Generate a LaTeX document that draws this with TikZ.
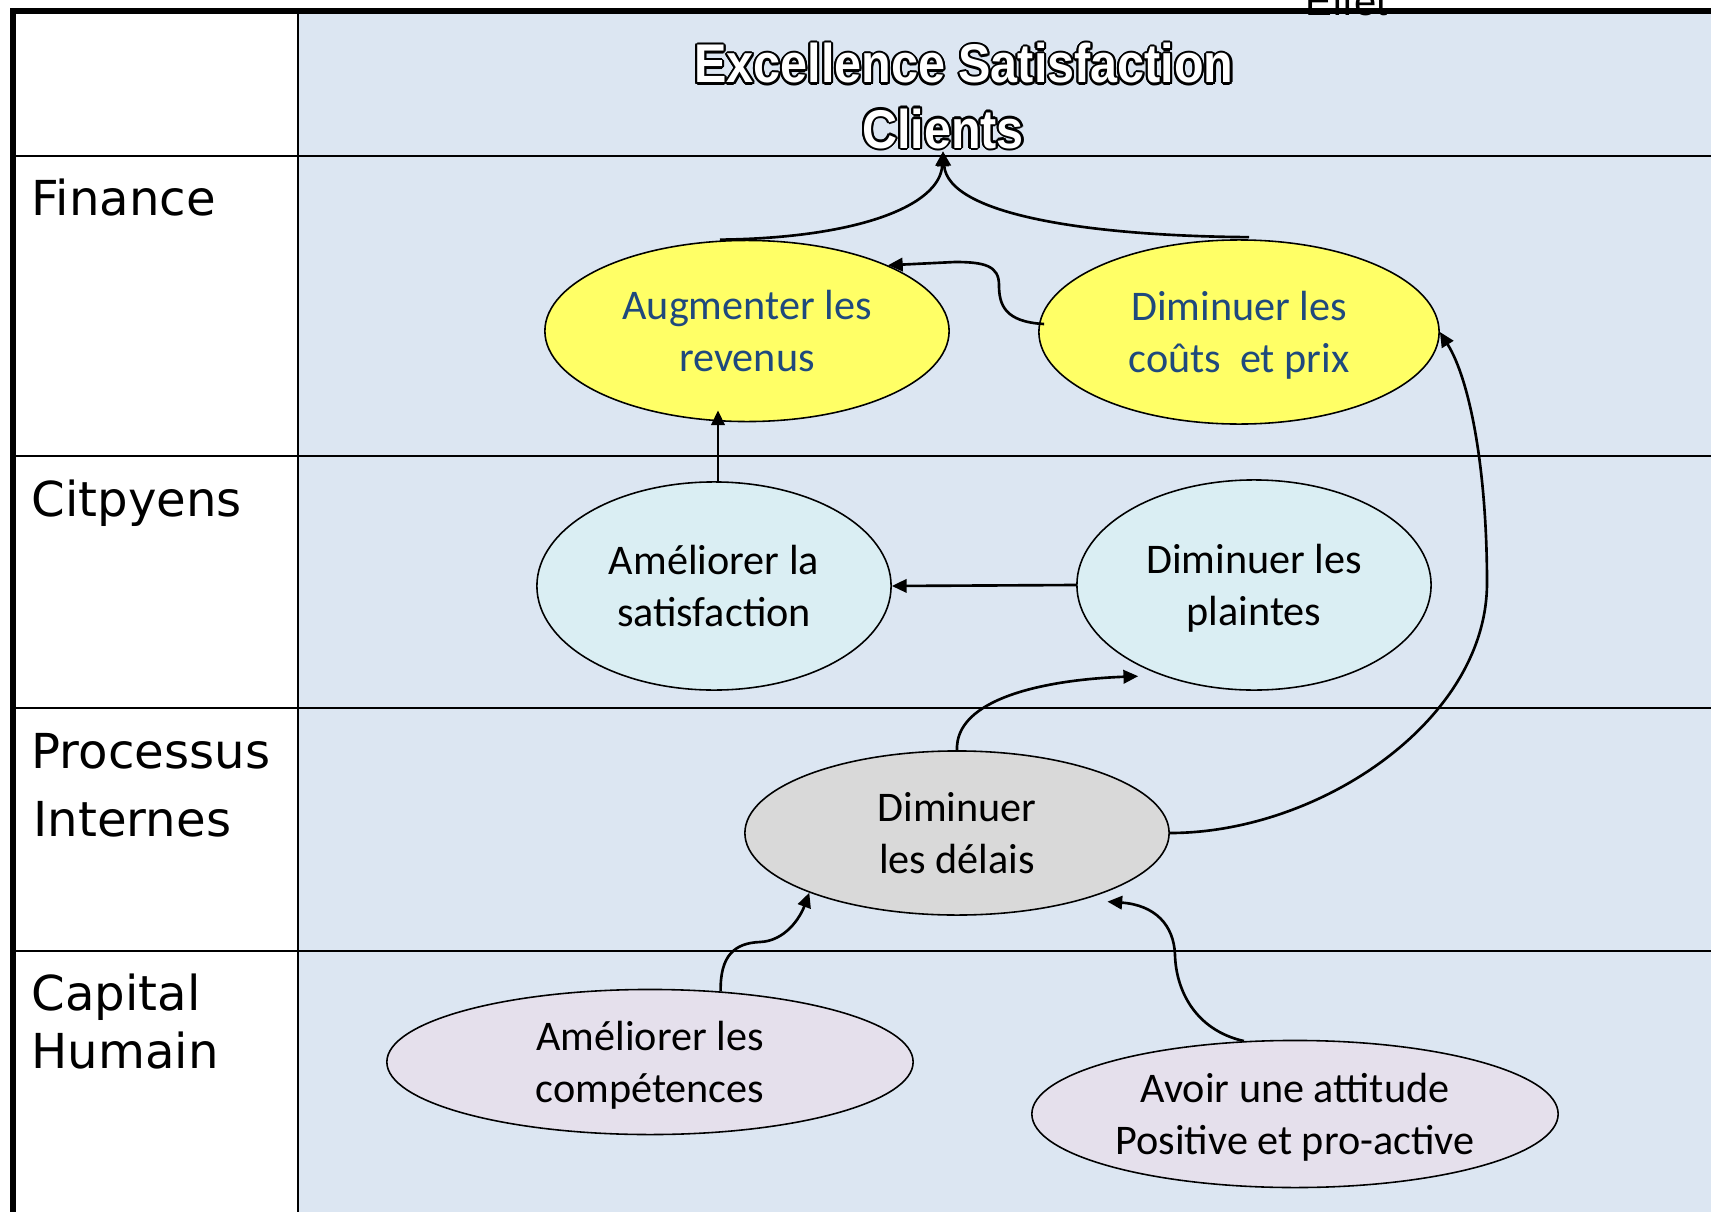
\documentclass[tikz,border=0pt]{standalone}
\usepackage{fontspec}
\usepackage{xcolor}
\usepackage{tikz}
\usepackage{contour}
\usetikzlibrary{calc,arrows.meta,shapes.geometric}
\setmainfont{Carlito}
\newfontfamily\labelfont{DejaVu Sans}
\newfontfamily\titlefont[FakeStretch=0.89]{Liberation Sans}
\newfontfamily\effetfont{Liberation Sans}
\definecolor{panel}{RGB}{220, 230, 242}
\definecolor{gold}{RGB}{255, 255, 102}
\definecolor{aqua}{RGB}{218, 238, 243}
\definecolor{ash}{RGB}{217, 217, 217}
\definecolor{lilac}{RGB}{229, 224, 236}
\definecolor{inkblue}{RGB}{31, 73, 125}
\contourlength{0.6pt}

\begin{document}
\begin{tikzpicture}[x=0.01cm, y=-0.01cm, >={Triangle[length=4.2pt,width=3.8pt]},
  goal/.style={ellipse, draw, line width=0.45pt, inner sep=0pt, align=center,
    text depth=0pt, font=\fontsize{12pt}{14.8pt}\selectfont},
  axis/.style={anchor=base west, inner sep=0pt, font=\labelfont\fontsize{13.7pt}{16pt}\selectfont},
  title/.style={anchor=base, inner sep=0pt, text=white,
    font=\titlefont\bfseries\fontsize{15.5pt}{18pt}\selectfont},
  link/.style={->, line width=0.75pt}]
  \useasboundingbox (0,0) rectangle (1711,1212);

  % Background of the map column
  \fill[panel] (298,11) rectangle (1711,1212);

  % Grid lines
  \foreach \y in {156,456,708,951}
    \draw[line width=0.6pt] (13,\y) -- (1711,\y);
  \draw[line width=0.6pt] (298,11) -- (298,1212);
  \draw[line width=1.7pt] (13,1212) -- (13,11) -- (1711,11);

  % Cut-off word at the top
  \node[anchor=base west, inner sep=0pt, font=\effetfont\fontsize{11.4pt}{13pt}\selectfont] (effet) at (1305,15) {Effet};

  % Title
  \node[title] (excel) at (964,83) {\contour{black}{Excellence Satisfaction}};
  \node[title] (clients) at (943,148) {\contour{black}{Clients}};

  % Row labels
  \node[axis] (finance) at (31,215) {Finance};
  \node[axis] (citoyens) at (31,516) {Citpyens};
  \node[axis] (processus) at (31,768) {Processus};
  \node[axis] (internes) at (33,836) {Internes};
  \node[axis] (capital) at (31,1010) {Capital};
  \node[axis] (humain) at (31,1068) {Humain};

  % Objectives
  \node[goal, fill=gold, text=inkblue, minimum width=4.04cm, minimum height=1.81cm] (revenus) at (747,331) {Augmenter les\\revenus};
  \node[goal, fill=gold, text=inkblue, minimum width=4.0cm, minimum height=1.84cm] (couts) at (1239,332) {Diminuer les\\coûts\ \ et prix};
  \node[goal, fill=aqua, minimum width=3.54cm, minimum height=2.08cm] (satis) at (714,586) {Améliorer la\\satisfaction};
  \node[goal, fill=aqua, minimum width=3.54cm, minimum height=2.1cm] (plaintes) at (1254,585) {Diminuer les\\plaintes};
  \node[goal, fill=ash, minimum width=4.24cm, minimum height=1.64cm] (delais) at (957,833) {Diminuer\\les délais};
  \node[goal, fill=lilac, minimum width=5.26cm, minimum height=1.45cm] (compet) at (650,1062) {Améliorer les\\compétences};
  \node[goal, fill=lilac, minimum width=5.26cm, minimum height=1.47cm] (attitude) at (1295,1114) {Avoir une attitude\\Positive et pro-active};

  % Links to the title
  \draw[link] ($(revenus.north)+(-27,0)$) .. controls (860,238) and (940,205) .. (clients.south);
  \draw[link] ($(couts.north)+(10,-2)$) .. controls (1090,236) and (948,215) .. (clients.south);

  % Links between objectives
  \draw[link] ($(couts.west)+(6,-8)$) .. controls (1005,322) and (999,305) .. (999,285)
    .. controls (999,266) and (985,262) .. (955,262) -- (revenus.25);
  \draw[link, shorten >=-0.12cm] ($(satis.north)+(4,0)$) -- ($(satis.north |- revenus.south)+(4,0)$);
  \draw[link] (plaintes.west) -- (satis.east);
  \draw[link] (delais.north) .. controls (955,700) and (1040,680) .. ($(plaintes.218)+(-8,7)$);
  \draw[link] (delais.east) .. controls (1320,833) and (1487,720) .. (1487,583)
    .. controls (1487,470) and (1470,380) .. (couts.east);
  \draw[link] (compet.45) .. controls (720,955) and (735,943) .. (760,942)
    .. controls (785,941) and (800,918) .. (delais.202);
  \draw[link] (attitude.125) .. controls (1195,1030) and (1176,990) .. (1175,955)
    .. controls (1174,925) and (1155,905) .. ($(delais.-25)+(14,5)$);
\end{tikzpicture}
\end{document}
